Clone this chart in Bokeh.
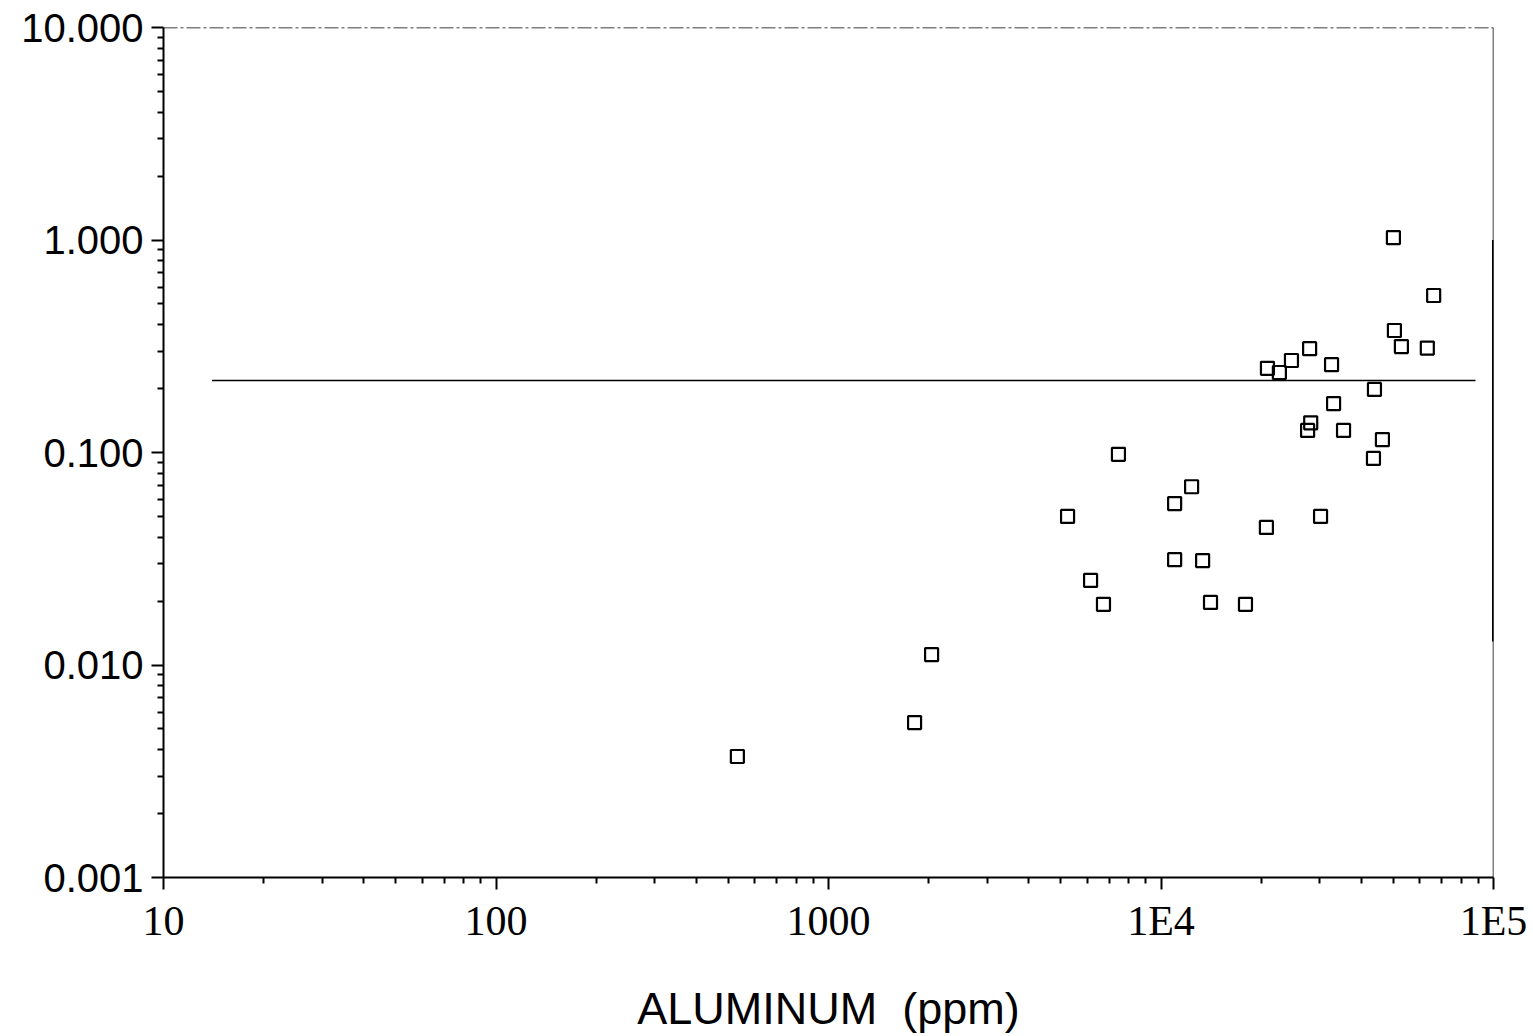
from bokeh.plotting import figure
from bokeh.models import Range1d, FixedTicker, NumeralTickFormatter, Span, ColumnDataSource
from bokeh.embed import file_html
from bokeh.resources import INLINE

# Data
aluminum_ppm = [532, 1815, 2042, 5236, 7447, 6140, 6714, 10990, 10990, 12360,
                13340, 14090, 17950, 20750, 30190, 50000, 66070, 50350, 52840, 63230,
                27990, 24680, 20900, 22700, 32580, 43850, 33040, 28200, 27600, 35400,
                46340, 43550]
y_values = [0.00371, 0.00536, 0.0112, 0.050, 0.098, 0.025, 0.0193, 0.0575, 0.0313, 0.069,
            0.031, 0.0197, 0.0193, 0.0444, 0.050, 1.027, 0.548, 0.375, 0.315, 0.31,
            0.308, 0.271, 0.249, 0.238, 0.259, 0.198, 0.170, 0.138, 0.127, 0.127,
            0.115, 0.0938]

ref_line_x = [14.0, 88300]
ref_line_y = [0.218, 0.218]

right_bar_x = [1.0e5, 1.0e5]
right_bar_y = [1.0, 0.0129]

x_major = [10, 100, 1000, 10000, 100000]
x_labels = {10: "10", 100: "100", 1000: "1000", 10000: "1E4", 100000: "1E5"}
y_major = [0.001, 0.01, 0.1, 1.0, 10.0]

x_minor = [m * 10 ** k for k in range(1, 5) for m in range(2, 10)]
y_minor = [m * 10 ** k for k in range(-3, 1) for m in range(2, 10)]

p = figure(width=1533, height=1036, x_axis_type="log", y_axis_type="log",
           x_range=Range1d(10, 1e5), y_range=Range1d(0.001, 10),
           output_backend="svg", toolbar_location=None,
           min_border_left=163, min_border_right=40, min_border_top=27, min_border_bottom=159)

p.grid.visible = False
p.outline_line_color = None
p.background_fill_color = "white"
p.border_fill_color = "white"

# axes
p.xaxis.ticker = FixedTicker(ticks=x_major, minor_ticks=x_minor)
p.xaxis.major_label_overrides = x_labels
p.yaxis.ticker = FixedTicker(ticks=y_major, minor_ticks=y_minor)
p.yaxis.formatter = NumeralTickFormatter(format="0.000")

for ax in (p.xaxis[0], p.yaxis[0]):
    ax.axis_line_color = "black"
    ax.axis_line_width = 2
    ax.major_tick_line_color = "black"
    ax.major_tick_line_width = 2
    ax.minor_tick_line_color = "black"
    ax.minor_tick_line_width = 2
    ax.major_tick_in = 0
    ax.minor_tick_in = 0
    ax.major_tick_out = 12
    ax.minor_tick_out = 6
    ax.major_label_text_color = "black"

p.yaxis.major_label_text_font = "Liberation Sans"
p.yaxis.major_label_text_font_size = "40px"
p.yaxis.major_label_standoff = 8

p.xaxis.major_label_text_font = "Liberation Serif"
p.xaxis.major_label_text_font_size = "42px"
p.xaxis.major_label_standoff = 8

p.xaxis.axis_label = "ALUMINUM\u00a0\u00a0(ppm)"
p.xaxis.axis_label_text_font = "Liberation Sans"
p.xaxis.axis_label_text_font_style = "normal"
p.xaxis.axis_label_text_font_size = "45px"
p.xaxis.axis_label_text_color = "black"
p.xaxis.axis_label_standoff = 36

# frame top (dash-dot) and right
p.add_layout(Span(location=10, dimension="width", line_color="black", line_width=1.5,
                  line_dash="14 3 3 3"))
p.add_layout(Span(location=1e5, dimension="height", line_color="black", line_width=1.5))

p.segment(x0=[right_bar_x[0]], y0=[right_bar_y[0]], x1=[right_bar_x[1]], y1=[right_bar_y[1]],
          line_color="black", line_width=3)

# reference line
p.line(ref_line_x, ref_line_y, line_color="black", line_width=1.5)

# data points
src = ColumnDataSource(dict(x=aluminum_ppm, y=y_values))
p.scatter("x", "y", source=src, marker="square", size=13, fill_color=None,
          line_color="black", line_width=2.2)

open("out.html", "w").write(file_html(p, INLINE))
